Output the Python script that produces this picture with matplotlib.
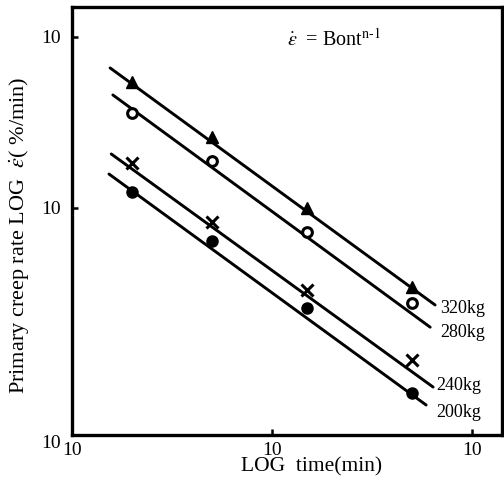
import matplotlib
matplotlib.use("Agg")
import matplotlib.pyplot as plt
from matplotlib.ticker import FixedLocator, NullLocator

plt.rcParams['font.family'] = ['Liberation Serif', 'DejaVu Serif']
plt.rcParams['mathtext.fontset'] = 'stix'

# Creep test readings: time (min) and primary creep rate (%/min)
times = [2, 5, 15, 50]
rate_320 = [0.0546, 0.0260, 0.0100, 0.00345]
rate_280 = [0.0360, 0.0188, 0.00724, 0.00278]
rate_240 = [0.0183, 0.00828, 0.00331, 0.00129]
rate_200 = [0.0124, 0.00641, 0.00260, 0.000828]

# fitted straight lines (start / end)
fit_t = {'320kg': [1.55, 65.3], '280kg': [1.60, 61.7], '240kg': [1.57, 63.8], '200kg': [1.53, 58.9]}
fit_rate = {'320kg': [0.0659, 0.00271], '280kg': [0.0458, 0.00201],
            '240kg': [0.0207, 0.000898], '200kg': [0.0158, 0.000705]}

# load labels at the right end of each line
label_t = [69, 69, 66, 66]
label_rate = [0.0026, 0.00186, 0.000923, 0.000641]
loads = ['320kg', '280kg', '240kg', '200kg']

x_ticks = [1, 10, 100]
y_ticks = [4.71e-4, 0.01, 0.1]
tick_labels = ['10', '10', '10']

fig = plt.figure(figsize=(5.04, 4.90), dpi=100)
ax = fig.add_axes([72/504, 1 - 435/490, 430/504, 428/490])
ax.set_xscale('log')
ax.set_yscale('log')

for k in loads:
    ax.plot(fit_t[k], fit_rate[k], color='black', lw=2.1, solid_capstyle='round')

ax.plot(times, rate_320, ls='none', marker='^', ms=8, color='black')
ax.plot(times, rate_280, ls='none', marker='o', ms=7, mfc='white', mec='black', mew=2.2)
ax.plot(times, rate_240, ls='none', marker='x', ms=8, mec='black', mew=2.2)
ax.plot(times, rate_200, ls='none', marker='o', ms=8, color='black')

for t, r, s in zip(label_t, label_rate, loads):
    ax.text(t, r, s, fontsize=13, va='center', ha='left')

ax.text(0.5, 0.925, r'$\dot{\epsilon}$  = Bont$^{\mathrm{n}\text{-}1}$', transform=ax.transAxes,
        fontsize=14.5, ha='left', va='center')

ax.set_xlim(1, 141)
ax.set_ylim(4.71e-4, 0.1496)
ax.xaxis.set_major_locator(FixedLocator(x_ticks))
ax.yaxis.set_major_locator(FixedLocator(y_ticks))
ax.xaxis.set_minor_locator(NullLocator())
ax.yaxis.set_minor_locator(NullLocator())
ax.set_xticklabels(tick_labels)
ax.set_yticklabels(tick_labels)
ax.tick_params(direction='in', length=4, width=1.8, labelsize=14)
ax.tick_params(axis='y', pad=8)
ax.tick_params(axis='x', pad=5)
ax.get_yaxis().get_major_ticks()[0].label1.set_va('top')

for sp in ax.spines.values():
    sp.set_linewidth(2.4)

fig.text(312/504, 1 - 467/490, 'LOG  time(min)', fontsize=15.5, ha='center', va='center')
fig.text(19/504, 1 - 235/490, r'Primary creep rate LOG  $\dot{\epsilon}$( %/min)', fontsize=16,
         rotation=90, ha='center', va='center')

fig.savefig('out.png', dpi=100)
